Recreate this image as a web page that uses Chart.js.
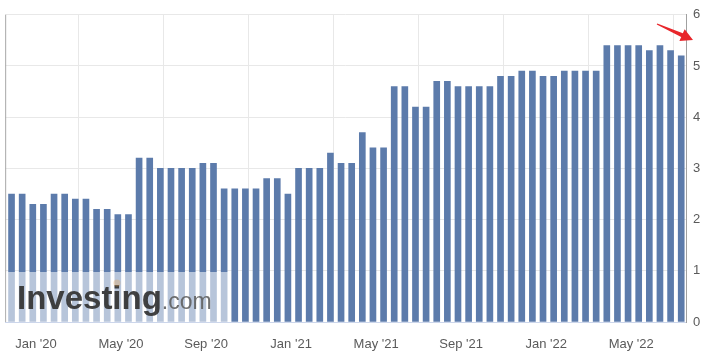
<!DOCTYPE html>
<html>
<head>
<meta charset="utf-8">
<script src="https://cdn.jsdelivr.net/npm/chart.js@4/dist/chart.umd.min.js"></script>
<style>
  html, body { margin: 0; padding: 0; background: #ffffff; }
  #wrap { position: relative; width: 704px; height: 357px; }
</style>
</head>
<body>
<div id="wrap"><canvas id="c" width="704" height="357"></canvas></div>
<script>
// Semi-monthly observations, Dec 2019 .. Jul 2022 (64 bars)
const values = [
  2.5, 2.5, 2.3, 2.3, 2.5, 2.5, 2.4, 2.4, 2.2, 2.2, 2.1, 2.1,
  3.2, 3.2, 3.0, 3.0, 3.0, 3.0, 3.1, 3.1, 2.6, 2.6, 2.6, 2.6,
  2.8, 2.8, 2.5, 3.0, 3.0, 3.0, 3.3, 3.1, 3.1, 3.7, 3.4, 3.4,
  4.6, 4.6, 4.2, 4.2, 4.7, 4.7, 4.6, 4.6, 4.6, 4.6, 4.8, 4.8,
  4.9, 4.9, 4.8, 4.8, 4.9, 4.9, 4.9, 4.9, 5.4, 5.4, 5.4, 5.4,
  5.3, 5.4, 5.3, 5.2
];
const categories = values.map((v, i) => i);   // bar index along the time axis
const tickLabels = ["Jan '20", "May '20", "Sep '20", "Jan '21", "May '21", "Sep '21", "Jan '22", "May '22"];
const firstTickIndex = 2.3;   // position of Jan '20 on the bar-index axis
const barsPerTick = 8;        // 4 months x 2 observations
const yTicks = [0, 1, 2, 3, 4, 5, 6];

const FONT = "'Liberation Sans', Arial, Helvetica, sans-serif";

const extras = {
  id: 'extras',
  afterDatasetsDraw(chart) {
    const ctx = chart.ctx, a = chart.chartArea;
    ctx.save();
    // left frame line
    ctx.strokeStyle = '#a8a8a8';
    ctx.lineWidth = 1;
    ctx.beginPath();
    ctx.moveTo(a.left + 0.5, a.top);
    ctx.lineTo(a.left + 0.5, a.bottom);
    ctx.stroke();
    // watermark panel
    ctx.fillStyle = 'rgba(255,255,255,0.56)';
    ctx.fillRect(a.left + 1, 272, 230 - a.left, a.bottom - 272);
    // watermark text
    ctx.textBaseline = 'alphabetic';
    ctx.font = 'bold 33px ' + FONT;
    ctx.fillStyle = 'rgba(50,50,50,0.92)';
    const x0 = 17, base = 309;
    ctx.fillText('Investing', x0, base);
    const w1 = ctx.measureText('Investing').width;
    const wInvest = ctx.measureText('Invest').width;
    const wi = ctx.measureText('i').width;
    ctx.fillStyle = 'rgba(235,170,90,0.35)';
    ctx.beginPath();
    ctx.arc(x0 + wInvest + wi / 2, 283, 3.5, 0, Math.PI * 2);
    ctx.fill();
    ctx.font = '23px ' + FONT;
    ctx.fillStyle = 'rgba(95,95,95,0.9)';
    ctx.fillText('.com', x0 + w1, base);
    ctx.restore();
  },
  afterDraw(chart) {
    const ctx = chart.ctx;
    // red annotation arrow pointing at the latest value
    const S = {x: 657, y: 24}, T = {x: 693, y: 40};
    const dx = T.x - S.x, dy = T.y - S.y, L = Math.hypot(dx, dy);
    const ux = dx / L, uy = dy / L, nx = -uy, ny = ux;
    const headLen = 12, headW = 6.5;
    const B = {x: T.x - ux * headLen, y: T.y - uy * headLen};
    ctx.save();
    ctx.fillStyle = '#e8262b';
    ctx.beginPath();
    ctx.moveTo(S.x + nx * 0.6, S.y + ny * 0.6);
    ctx.lineTo(B.x + nx * 2, B.y + ny * 2);
    ctx.lineTo(B.x + nx * headW, B.y + ny * headW);
    ctx.lineTo(T.x, T.y);
    ctx.lineTo(B.x - nx * headW, B.y - ny * headW);
    ctx.lineTo(B.x - nx * 2, B.y - ny * 2);
    ctx.lineTo(S.x - nx * 0.6, S.y - ny * 0.6);
    ctx.closePath();
    ctx.fill();
    ctx.restore();
  }
};

new Chart(document.getElementById('c'), {
  type: 'bar',
  data: {
    datasets: [{
      data: categories.map((c, i) => ({x: c, y: values[i]})),
      backgroundColor: '#5c7bab',
      borderWidth: 0,
      barThickness: 6
    }]
  },
  options: {
    responsive: false,
    animation: false,
    events: [],
    layout: { padding: { left: 5, top: 11, right: 0, bottom: 0 } },
    plugins: { legend: { display: false }, tooltip: { enabled: false } },
    scales: {
      x: {
        type: 'linear',
        offset: false,
        min: -0.6,
        max: 63.45,
        afterBuildTicks(scale) {
          scale.ticks = tickLabels.map((l, k) => ({ value: firstTickIndex + k * barsPerTick }));
        },
        afterFit(scale) { scale.height = 35; },
        ticks: {
          autoSkip: false,
          maxRotation: 0,
          padding: 15,
          color: '#5a5a5a',
          font: { family: FONT, size: 13 },
          callback: (v, i) => tickLabels[i]
        },
        grid: { color: '#e8e8e8', drawTicks: false, lineWidth: 1 },
        border: { display: true, color: '#ccd6eb' }
      },
      y: {
        position: 'right',
        min: 0,
        max: 6,
        afterBuildTicks(scale) {
          scale.ticks = yTicks.map(v => ({ value: v }));
        },
        afterFit(scale) { scale.width = 18; },
        ticks: {
          padding: 7,
          color: '#5a5a5a',
          font: { family: FONT, size: 13 },
          callback: v => String(v)
        },
        grid: { color: '#e8e8e8', drawTicks: false },
        border: { display: true, color: '#a0a0a0' }
      }
    }
  },
  plugins: [extras]
});
</script>
</body>
</html>
